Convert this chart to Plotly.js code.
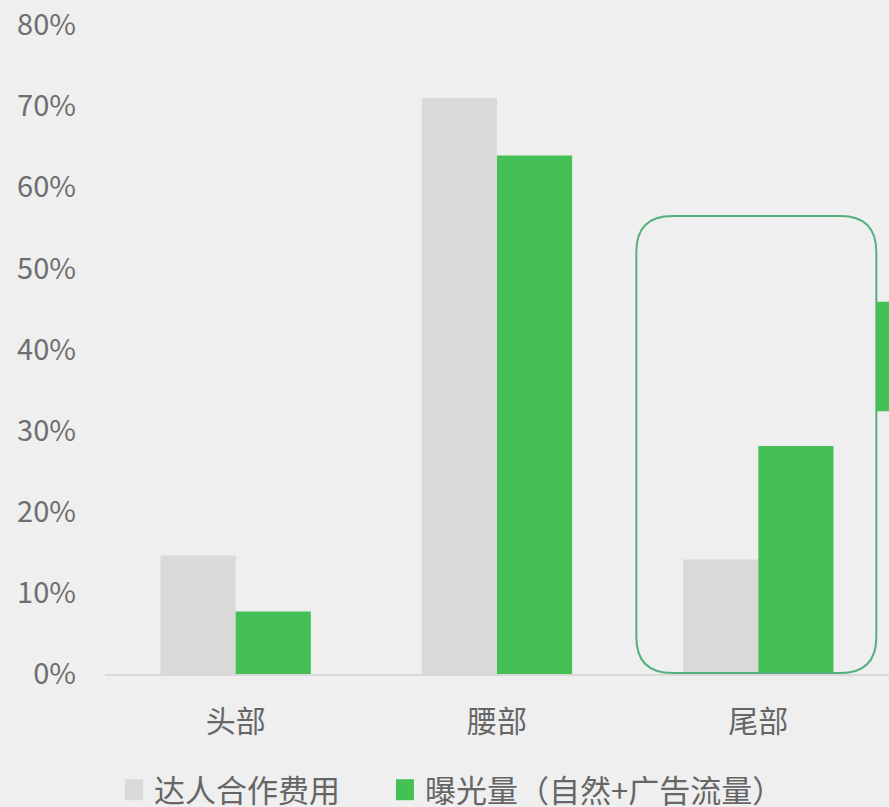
<!DOCTYPE html>
<html><head><meta charset="utf-8">
<script src="https://cdn.plot.ly/plotly-3.0.1.min.js"></script>
<style>html,body{margin:0;padding:0;background:#efefef;}#chart{width:889px;height:807px;}</style>
</head><body><div id="chart"></div>
<script>
const categories = ['头部', '腰部', '尾部'];
const seriesNames = ['达人合作费用', '曝光量（自然+广告流量）'];
const costShare = [0.146, 0.710, 0.141];
const exposureShare = [0.077, 0.639, 0.281];
const tickVals = [0, 0.1, 0.2, 0.3, 0.4, 0.5, 0.6, 0.7, 0.8];

const FONT = '"Noto Sans CJK SC", "Microsoft YaHei", sans-serif';
const data = [
  {type:'bar', name: seriesNames[0], x: categories, y: costShare,
   marker:{color:'#d9d9d9'}, hoverinfo:'none', legend:'legend'},
  {type:'bar', name: seriesNames[1], x: categories, y: exposureShare,
   marker:{color:'#44c055'}, hoverinfo:'none', legend:'legend2'}
];
const r = 36;
const rectPath = `M -122 ${r+1} L -122 ${458-r} Q -122 458 ${-122+r} 458 L ${118-r} 458 Q 118 458 118 ${458-r} L 118 ${r+1} Q 118 1 ${118-r} 1 L ${-122+r} 1 Q -122 1 -122 ${r+1} Z`;
const legendBase = {orientation:'h', xref:'container', yref:'container', xanchor:'left', y:0.021, yanchor:'middle',
          font:{size:31, color:'#666666'}, bgcolor:'rgba(0,0,0,0)'};
const layout = {
  width: 889, height: 807,
  paper_bgcolor:'#efefef', plot_bgcolor:'#efefef',
  margin:{l:105, r:0, t:25, b:133},
  barmode:'group', bargap:0.425, bargroupgap:0,
  font:{family:FONT, color:'#666666', size:28},
  xaxis:{showgrid:false, showline:true, linecolor:'#d9d9d9', linewidth:1.5,
         ticks:'', tickfont:{size:30, color:'#666666'}, ticklabelstandoff:20, zeroline:false},
  yaxis:{range:[0,0.8], tickvals:tickVals, tickformat:'.0%', showgrid:false, showline:false,
         zeroline:false, ticks:'', tickfont:{size:29, color:'#6e6e6e'}, ticklabelstandoff:28},
  showlegend:true,
  legend:Object.assign({}, legendBase, {x:0.1282}),
  legend2:Object.assign({}, legendBase, {x:0.433}),
  shapes:[
    {type:'path', xref:'x', yref:'y', xsizemode:'pixel', ysizemode:'pixel', xanchor:2, yanchor:0,
     path: rectPath, line:{color:'#55b07f', width:2}, fillcolor:'rgba(0,0,0,0)', layer:'above'},
    {type:'rect', xref:'paper', yref:'y', x0:0.9834, x1:1.0, y0:0.324, y1:0.459,
     line:{width:0}, fillcolor:'#44c055', layer:'above'}
  ]
};
Plotly.newPlot('chart', data, layout, {displayModeBar:false, staticPlot:true}).then(function(){
  document.querySelectorAll('.legendpoints path').forEach(function(p){
    p.setAttribute('d','M9,10.5H-9V-10.5H9Z');
  });
});
</script></body></html>
